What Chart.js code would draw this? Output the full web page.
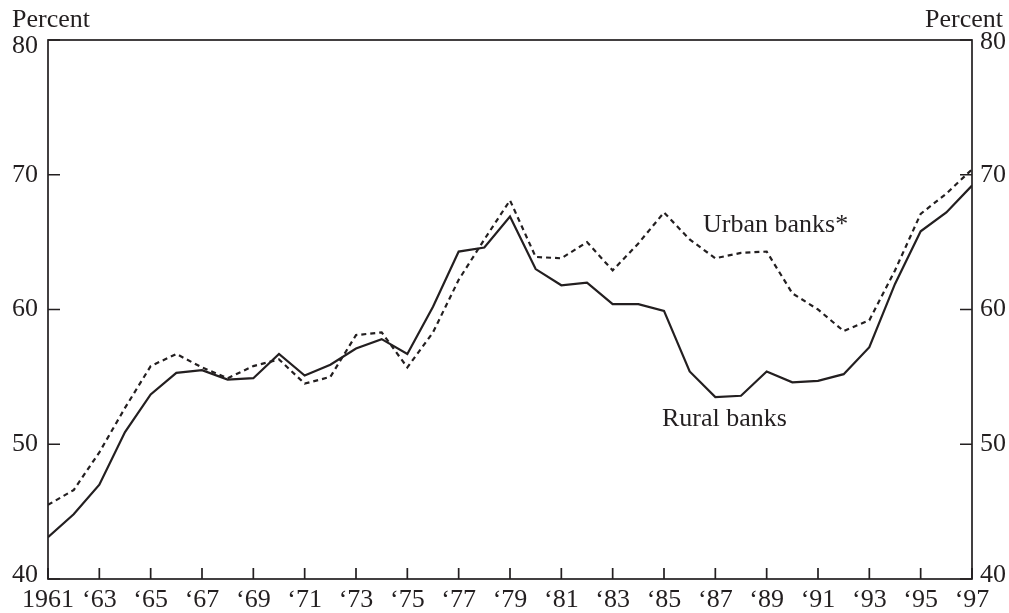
<!DOCTYPE html>
<html>
<head>
<meta charset="utf-8">
<script src="https://cdn.jsdelivr.net/npm/chart.js@4.4.1/dist/chart.umd.min.js"></script>
<style>
html,body{margin:0;padding:0;background:#fff;}
#wrap{width:1009px;height:613px;position:relative;}
</style>
</head>
<body>
<div id="wrap"><canvas id="c" width="1009" height="613"></canvas></div>
<script>
const years = [1961,1962,1963,1964,1965,1966,1967,1968,1969,1970,1971,1972,1973,1974,1975,1976,1977,1978,1979,1980,1981,1982,1983,1984,1985,1986,1987,1988,1989,1990,1991,1992,1993,1994,1995,1996,1997];
const ruralBanks = [43.1,44.8,47.0,50.9,53.7,55.3,55.5,54.8,54.9,56.7,55.1,55.9,57.1,57.8,56.7,60.2,64.3,64.6,66.9,63.0,61.8,62.0,60.4,60.4,59.9,55.4,53.5,53.6,55.4,54.6,54.7,55.2,57.2,61.9,65.8,67.2,69.2];
const urbanBanks = [45.5,46.6,49.4,52.7,55.8,56.7,55.7,54.9,55.8,56.3,54.5,55.0,58.1,58.3,55.7,58.3,62.2,65.2,68.1,63.9,63.8,65.0,62.9,64.9,67.2,65.2,63.8,64.2,64.3,61.2,60.0,58.4,59.2,62.9,67.1,68.6,70.4];
const xTickValues = [1961,1963,1965,1967,1969,1971,1973,1975,1977,1979,1981,1983,1985,1987,1989,1991,1993,1995,1997];
const xTickLabels = ['1961','\u201863','\u201865','\u201867','\u201869','\u201871','\u201873','\u201875','\u201877','\u201879','\u201881','\u201883','\u201885','\u201887','\u201889','\u201891','\u201893','\u201895','\u201897'];
const yTickValues = [40,50,60,70,80];
const unitLabel = 'Percent';
const seriesLabels = ['Rural banks','Urban banks*'];

const INK = '#231f20';
const FONT = '"Liberation Serif", "Times New Roman", serif';

const framePlugin = {
  id: 'frame',
  afterDraw(chart) {
    const ctx = chart.ctx;
    const a = chart.chartArea;
    const xs = chart.scales.x, ys = chart.scales.y;
    ctx.save();
    ctx.strokeStyle = INK;
    ctx.lineWidth = 1.7;
    ctx.strokeRect(a.left, a.top, a.right - a.left, a.bottom - a.top);
    ctx.beginPath();
    xTickValues.forEach(v => {
      const px = xs.getPixelForValue(v);
      ctx.moveTo(px, a.bottom);
      ctx.lineTo(px, a.bottom - 11);
    });
    yTickValues.forEach(v => {
      const py = ys.getPixelForValue(v);
      ctx.moveTo(a.left, py);
      ctx.lineTo(a.left + 12, py);
      ctx.moveTo(a.right, py);
      ctx.lineTo(a.right - 12, py);
    });
    ctx.stroke();
    ctx.fillStyle = INK;
    ctx.font = '26px ' + FONT;
    // y tick labels (end labels nudged inside the frame as in the original)
    ctx.textBaseline = 'middle';
    yTickValues.forEach(v => {
      const py = ys.getPixelForValue(v);
      const shiftL = v === 80 ? 6 : (v === 40 ? -4 : 0);
      const shiftR = v === 80 ? 2 : (v === 40 ? -4 : 0);
      ctx.textAlign = 'right';
      ctx.fillText(String(v), a.left - 10, py + shiftL);
      ctx.textAlign = 'left';
      ctx.fillText(String(v), a.right + 8, py + shiftR);
    });
    ctx.textBaseline = 'alphabetic';
    ctx.textAlign = 'left';
    ctx.fillText(unitLabel, 12, 27);
    ctx.textAlign = 'right';
    ctx.fillText(unitLabel, 1003, 27);
    ctx.textAlign = 'left';
    ctx.fillText(seriesLabels[1], xs.getPixelForValue(1986.52), ys.getPixelForValue(65.76));
    ctx.fillText(seriesLabels[0], xs.getPixelForValue(1984.92), ys.getPixelForValue(51.36));
    ctx.restore();
  }
};

new Chart(document.getElementById('c'), {
  type: 'line',
  data: {
    labels: years,
    datasets: [
      {
        label: seriesLabels[1],
        data: years.map((y, i) => ({x: y, y: urbanBanks[i]})),
        borderColor: INK,
        borderWidth: 2.2,
        borderDash: [5, 4],
        pointRadius: 0,
        tension: 0,
        fill: false
      },
      {
        label: seriesLabels[0],
        data: years.map((y, i) => ({x: y, y: ruralBanks[i]})),
        borderColor: INK,
        borderWidth: 2.2,
        pointRadius: 0,
        tension: 0,
        fill: false
      }
    ]
  },
  options: {
    responsive: false,
    animation: false,
    layout: { padding: { top: 40, left: 0, right: 0, bottom: 0 } },
    plugins: { legend: { display: false }, tooltip: { enabled: false } },
    scales: {
      x: {
        type: 'linear',
        min: 1961, max: 1997,
        grid: { display: false, drawTicks: false },
        border: { display: false },
        afterBuildTicks(s) { s.ticks = xTickValues.map(v => ({value: v})); },
        afterFit(s) { s.height = 34; },
        ticks: {
          color: INK,
          font: { family: FONT, size: 26 },
          padding: 6,
          maxRotation: 0,
          autoSkip: false,
          callback(v) { const i = xTickValues.indexOf(v); return i >= 0 ? xTickLabels[i] : ''; }
        }
      },
      y: {
        position: 'left',
        min: 40, max: 80,
        grid: { display: false, drawTicks: false },
        border: { display: false },
        afterBuildTicks(s) { s.ticks = yTickValues.map(v => ({value: v})); },
        afterFit(s) { s.width = 48; },
        ticks: { display: false }
      },
      y2: {
        position: 'right',
        min: 40, max: 80,
        grid: { display: false, drawTicks: false },
        border: { display: false },
        afterBuildTicks(s) { s.ticks = yTickValues.map(v => ({value: v})); },
        afterFit(s) { s.width = 37; },
        ticks: { display: false }
      }
    }
  },
  plugins: [framePlugin]
});
</script>
</body>
</html>
